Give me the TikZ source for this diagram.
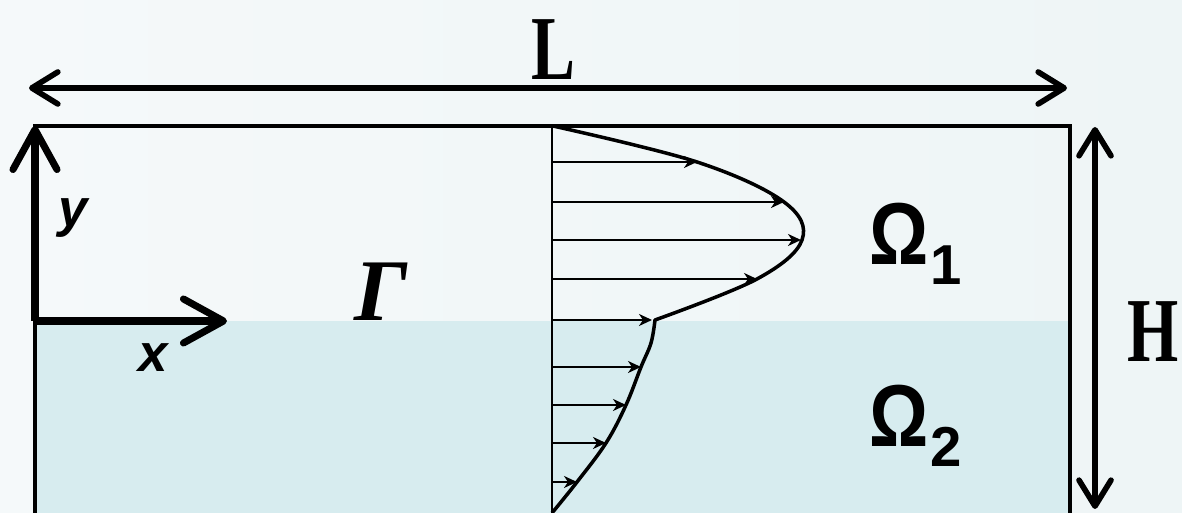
\documentclass[tikz,border=0pt]{standalone}
\usepackage{fontspec}
\setmainfont{Liberation Serif}
\setsansfont{Liberation Sans}
\usetikzlibrary{arrows.meta}
\definecolor{bgleft}{HTML}{F5F9FA}
\definecolor{bgright}{HTML}{EEF5F6}
\definecolor{lowfluid}{HTML}{D7ECEF}

\begin{document}
\begin{tikzpicture}[
    x=0.01cm, y=0.01cm,
    wall/.style={line width=1.2pt},
    dimarrow/.style={line width=1.6pt, {Straight Barb[length=2.6mm,width=3.2mm,round]}-{Straight Barb[length=2.6mm,width=3.2mm,round]}},
    axis/.style={line width=2pt, -{Straight Barb[length=4mm,width=4.4mm,round]}},
    velarrow/.style={line width=0.6pt, -{Stealth[length=1.3mm,width=1.2mm,inset=0.4mm]}},
    profile/.style={line width=1pt, line join=round},
    dimlabel/.style={anchor=base, inner sep=0pt, font=\fontsize{26}{30}\selectfont\bfseries},
    axislabel/.style={anchor=base, font=\sffamily\fontsize{15}{18}\selectfont\bfseries\itshape},
    domainlabel/.style={anchor=base west, inner sep=0pt, font=\sffamily\fontsize{25}{30}\selectfont\bfseries}
]

% fond et cadre
\clip (0,0) rectangle (1182,513);
\fill[left color=bgleft, right color=bgright] (0,0) rectangle (1182,513);
\fill[lowfluid] (35,-5) rectangle (1070,192);
\draw[wall] (35,-5) -- (35,387) -- (1070,387) -- (1070,-5);

% cotes L et H
\coordinate (Lleft) at (29,425);
\coordinate (Lright) at (1067,425);
\coordinate (Htop) at (1095,386);
\coordinate (Hbot) at (1095,4);
\draw[dimarrow] (Lleft) -- (Lright);
\draw[dimarrow] (Htop) -- (Hbot);
\node (Llab) [dimlabel] at (553,433) {\scalebox{0.72}[1]{L}};
\node (Hlab) [dimlabel] at (1153,151) {\scalebox{0.72}[1]{H}};

% repere
\coordinate (origin) at (35,192);
\coordinate (yend) at (35,387);
\coordinate (xend) at (227,192);
\draw[axis] (origin) -- (yend);
\draw[axis] (origin) -- (xend);
\node (ylab) [axislabel] at (73,286) {y};
\node (xlab) [axislabel] at (153,141) {x};

% interface et domaines
\node (gamma) [anchor=base, font=\fontsize{25}{30}\selectfont\bfseries\itshape] at (381,192) {Γ};
\node (omega1) [domainlabel] at (869,248) {\scalebox{0.84}[1]{Ω}\kern0.5pt\raisebox{-5.5pt}{\fontsize{16}{18}\selectfont 1}};
\node (omega2) [domainlabel] at (869,66) {\scalebox{0.84}[1]{Ω}\kern0.5pt\raisebox{-5.5pt}{\fontsize{16}{18}\selectfont 2}};

% profil de vitesse
\draw[line width=0.6pt] (552,387) -- (552,0);
\draw[profile] plot[smooth, tension=0.6] coordinates {(553,387) (697,351) (784,311) (802,273) (757,234) (655,193)}
    -- plot[smooth, tension=0.6] coordinates {(655,193) (651,170) (641,146) (626,108) (606,70) (577,31) (552,0)};
\foreach \yy/\xx in {351/697, 311/784, 273/801, 234/757, 193/652, 146/641, 108/626, 70/606, 31/577}
    \draw[velarrow] (552,\yy) -- (\xx,\yy);

\end{tikzpicture}
\end{document}
